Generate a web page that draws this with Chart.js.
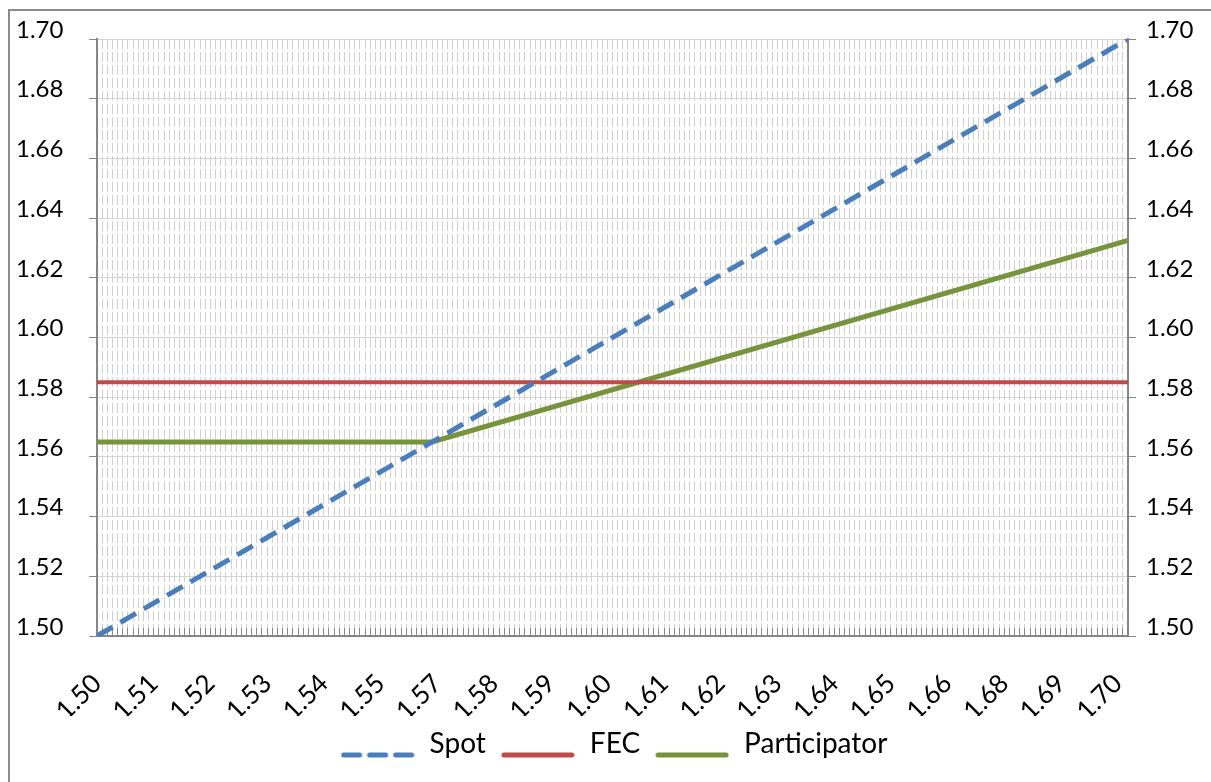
<!DOCTYPE html>
<html>
<head>
<meta charset="utf-8">
<script src="https://cdn.jsdelivr.net/npm/chart.js@4.4.1/dist/chart.umd.min.js"></script>
<style>
  html, body { margin: 0; padding: 0; background: #fff; }
  #frame {
    position: absolute; left: 8px; top: 9px;
    width: 1203px; height: 773px;
    border-left: 2px solid #8c8c8c; border-top: 2px solid #8c8c8c;
    box-sizing: border-box;
  }
  #wrap { position: absolute; left: 0; top: 0; width: 1201px; height: 771px; }
</style>
</head>
<body>
<div id="frame"><div id="wrap"><canvas id="myChart"></canvas></div></div>
<script>
// x tick positions (rate) and the labels Excel printed for them
const xTickValues = [1.500, 1.511, 1.522, 1.533, 1.544, 1.555, 1.566, 1.577, 1.588, 1.599,
                     1.610, 1.621, 1.632, 1.643, 1.654, 1.665, 1.676, 1.687, 1.698];
const xTickLabels = ['1.50', '1.51', '1.52', '1.53', '1.54', '1.55', '1.57', '1.58', '1.59', '1.60',
                     '1.61', '1.62', '1.63', '1.64', '1.65', '1.66', '1.68', '1.69', '1.70'];

// series (x = spot rate, y = effective rate)
const spotX = [1.50, 1.70];
const spotY = [1.50, 1.70];
const fecX = [1.50, 1.70];
const fecY = [1.585, 1.585];
const partX = [1.50, 1.565, 1.70];
const partY = [1.565, 1.565, 1.6325];

const yMin = 1.50, yMax = 1.70, yStep = 0.02;

const pts = (xs, ys) => xs.map((x, i) => ({ x: x, y: ys[i] }));

Chart.defaults.font.family = 'Lato';
Chart.defaults.color = '#000';

// legend swatch: Excel draws the line a bit below the text middle
function swatch(color, dash) {
  const c = document.createElement('canvas');
  c.width = 74; c.height = 30;
  const g = c.getContext('2d');
  g.strokeStyle = color;
  g.lineWidth = 5;
  g.lineCap = 'round';
  g.setLineDash(dash);
  g.beginPath();
  g.moveTo(3, 26);
  g.lineTo(71, 26);
  g.stroke();
  return c;
}

const axisGrey = '#868686';
const yLabels = {
  font: { size: 24 },
  stepSize: yStep,
  labelOffset: -9,
  callback: v => v.toFixed(2)
};

const ctx = document.getElementById('myChart').getContext('2d');
let myChart = new Chart(ctx, {
  type: 'line',
  data: {
    datasets: [{
      label: 'Spot',
      data: pts(spotX, spotY),
      borderColor: '#4a7ebb',
      backgroundColor: '#4a7ebb',
      borderWidth: 5,
      borderDash: [18, 9],
      pointStyle: swatch('#4a7ebb', [16, 10])
    }, {
      label: 'FEC',
      data: pts(fecX, fecY),
      borderColor: '#be4b48',
      backgroundColor: '#be4b48',
      borderWidth: 4,
      pointStyle: swatch('#be4b48', [])
    }, {
      label: 'Participator',
      data: pts(partX, partY),
      borderColor: '#77933c',
      backgroundColor: '#77933c',
      borderWidth: 5,
      pointStyle: swatch('#77933c', [])
    }]
  },
  options: {
    responsive: true,
    maintainAspectRatio: false,
    animation: false,
    elements: { point: { radius: 0 }, line: { tension: 0 } },
    layout: { padding: { left: 6, right: 0, top: 28, bottom: 14 } },
    plugins: {
      tooltip: { enabled: false },
      legend: {
        position: 'bottom',
        labels: {
          usePointStyle: true,
          pointStyleWidth: 76,
          boxWidth: 76,
          padding: 14,
          font: { size: 28 },
          color: '#000'
        }
      }
    },
    scales: {
      xg: {
        type: 'linear',
        position: 'bottom',
        weight: 0,
        min: 1.5,
        max: 1.7,
        afterBuildTicks: axis => {
          const t = [];
          for (let i = 0; i <= 200; i++) t.push({ value: 1.5 + i * 0.001 });
          axis.ticks = t;
        },
        afterFit: axis => { axis.height = 0; },
        ticks: { display: false },
        grid: { color: '#cfcfcf', lineWidth: 1, tickLength: -8, tickColor: '#888888' },
        border: { display: false, dash: [10, 3] }
      },
      x: {
        type: 'linear',
        position: 'bottom',
        weight: 1,
        min: 1.5,
        max: 1.7,
        afterBuildTicks: axis => {
          axis.ticks = xTickValues.map(v => ({ value: v }));
        },
        afterFit: axis => { axis.height = 80; },
        ticks: {
          autoSkip: false,
          maxRotation: 45,
          minRotation: 45,
          padding: 24,
          font: { size: 26 },
          callback: (v, i) => xTickLabels[i]
        },
        grid: { display: false },
        border: { display: true, color: axisGrey, width: 2 }
      },
      y: {
        position: 'left',
        min: yMin,
        max: yMax,
        afterFit: axis => { axis.width = 81; },
        ticks: Object.assign({ crossAlign: 'far', padding: 0 }, yLabels),
        grid: { color: '#d4d4d4', tickColor: axisGrey, tickLength: 8 },
        border: { color: axisGrey, width: 2 }
      },
      y2: {
        position: 'right',
        min: yMin,
        max: yMax,
        afterFit: axis => { axis.width = 83; },
        ticks: Object.assign({ padding: 10 }, yLabels),
        grid: { drawOnChartArea: false, tickColor: axisGrey, tickLength: 8 },
        border: { color: axisGrey, width: 2 }
      }
    }
  }
});
</script>
</body>
</html>
